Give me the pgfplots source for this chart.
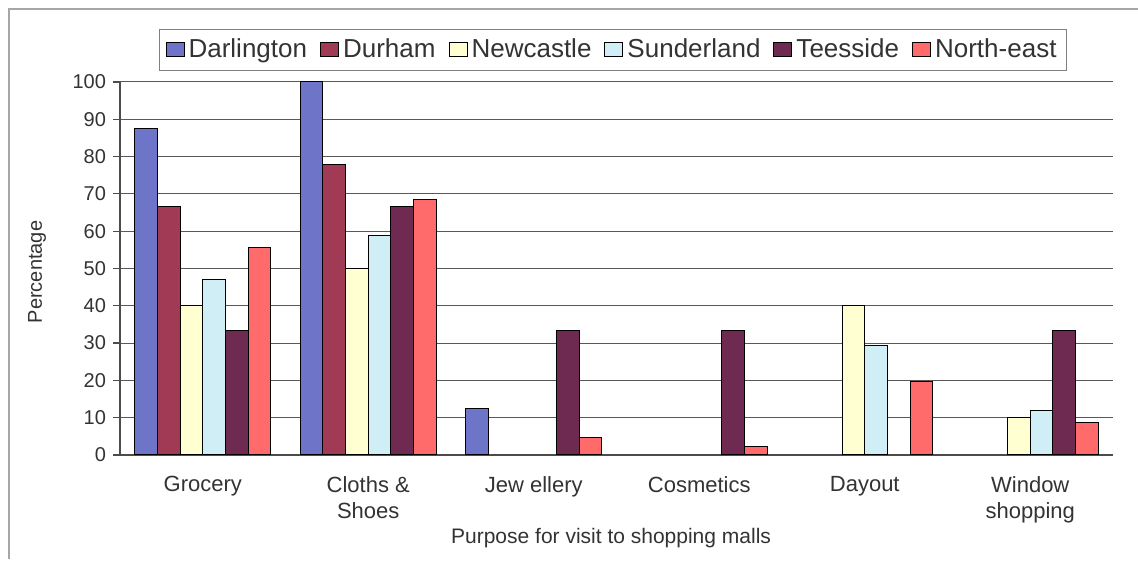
\documentclass[border=0pt]{standalone}
\usepackage{pgfplots}
\pgfplotsset{compat=1.18}
\usepackage{fontspec}
\setmainfont{Liberation Sans}
\definecolor{cDar}{HTML}{6E74C8}
\definecolor{cDur}{HTML}{A03A55}
\definecolor{cNew}{HTML}{FFFFD2}
\definecolor{cSun}{HTML}{D0EEF5}
\definecolor{cTee}{HTML}{6E2A50}
\definecolor{cNor}{HTML}{FF6B6B}
\definecolor{txt}{HTML}{333333}
\begin{document}
\begin{tikzpicture}
\useasboundingbox (0,0) rectangle (569pt,280.5pt);
\fill[white] (0,0) rectangle (569pt,280.5pt);
\draw[black!35, line width=0.8pt] (4.5pt,1pt) -- (4.5pt,276pt) -- (569pt,276pt);
\begin{axis}[
  at={(60pt,53pt)}, anchor=south west,
  scale only axis, width=496.5pt, height=186.5pt,
  ybar=0pt, bar width=0.137,
  xmin=-0.5, xmax=5.5, ymin=0, ymax=100,
  axis x line*=bottom, axis y line*=left,
  axis line style={black!70, line width=0.6pt},
  ytick={0,10,...,100},
  ymajorgrids, grid style={black!65, line width=0.5pt},
  xtick={0,1,2,3,4,5},
  xticklabels={Grocery,{Cloths \&\\Shoes},Jew ellery,Cosmetics,Dayout,{Window\\shopping}},
  minor xtick={-0.5,0.5,...,5.5},
  tick align=outside,
  xtick style={draw=none},
  minor tick length=3pt, major tick length=3.5pt,
  tick style={black!70, line width=0.6pt},
  /pgf/number format/assume math mode=true,
  yticklabel style={font=\fontsize{10}{12}\selectfont, text=txt},
  xticklabel style={font=\fontsize{11}{13}\selectfont, text=txt, align=center, anchor=north, yshift=-3.5pt},
  every axis y label/.style={at={(axis description cs:-0.0836,0.4906)}, rotate=90, anchor=center, font=\fontsize{10}{12}\selectfont, text=txt},
  every axis x label/.style={at={(axis description cs:0.4945,-0.222)}, anchor=center, font=\fontsize{10.5}{12}\selectfont, text=txt},
  ylabel={Percentage},
  xlabel={Purpose for visit to shopping malls},
  legend columns=6,
  legend style={at={(rel axis cs:0.4965,1.0858)}, anchor=center, draw=black!50, line width=0.5pt,
    font=\fontsize{13}{15}\selectfont, text=txt,
    /tikz/every even column/.append style={column sep=4.5pt},
    inner sep=3pt},
  legend image code/.code={\draw[#1, line width=0.5pt] (0pt,-3.5pt) rectangle (9pt,3.5pt);},
  every axis plot/.append style={draw=black, line width=0.5pt},
]
\addplot[fill=cDar] coordinates {(0,87.5) (1,100) (2,12.5)};
\addplot[fill=cDur] coordinates {(0,66.7) (1,77.8)};
\addplot[fill=cNew] coordinates {(0,40) (1,50) (4,40) (5,10)};
\addplot[fill=cSun] coordinates {(0,47.1) (1,58.8) (4,29.4) (5,11.8)};
\addplot[fill=cTee] coordinates {(0,33.3) (1,66.7) (2,33.3) (3,33.3) (5,33.3)};
\addplot[fill=cNor] coordinates {(0,55.6) (1,68.4) (2,4.8) (3,2.2) (4,19.6) (5,8.7)};
\legend{Darlington,Durham,Newcastle,Sunderland,Teesside,North-east}
\end{axis}
\end{tikzpicture}
\end{document}
